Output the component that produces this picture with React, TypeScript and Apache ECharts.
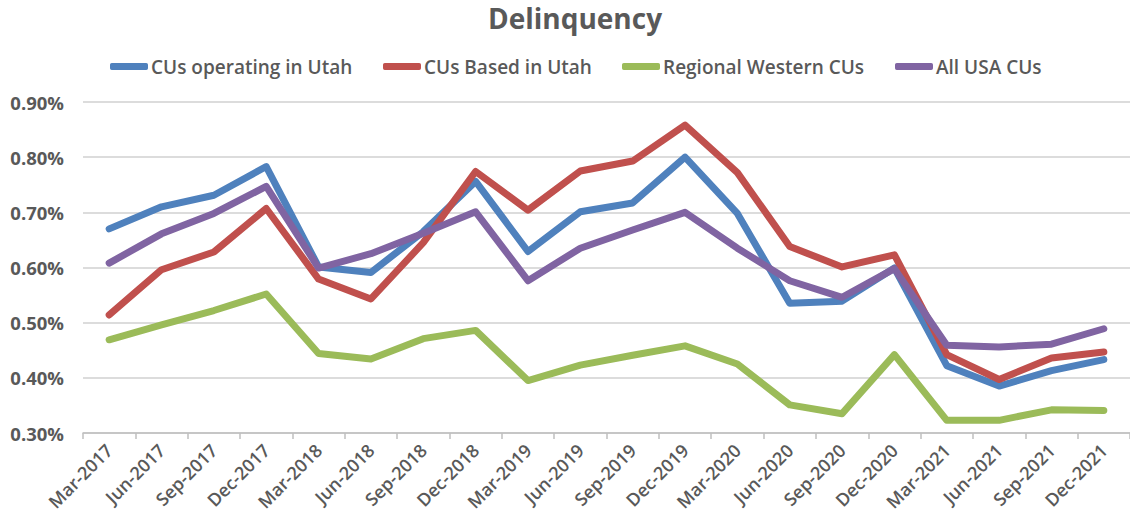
import React, { useEffect, useRef } from "react";
import * as echarts from "echarts";

const categories = [
  "Mar-2017", "Jun-2017", "Sep-2017", "Dec-2017",
  "Mar-2018", "Jun-2018", "Sep-2018", "Dec-2018",
  "Mar-2019", "Jun-2019", "Sep-2019", "Dec-2019",
  "Mar-2020", "Jun-2020", "Sep-2020", "Dec-2020",
  "Mar-2021", "Jun-2021", "Sep-2021", "Dec-2021",
];

const cusOperatingInUtah = [
  0.670, 0.710, 0.731, 0.783, 0.601, 0.591, 0.665, 0.756, 0.629, 0.701,
  0.717, 0.800, 0.698, 0.535, 0.539, 0.599, 0.422, 0.385, 0.413, 0.433,
];
const cusBasedInUtah = [
  0.514, 0.596, 0.628, 0.707, 0.579, 0.543, 0.645, 0.774, 0.704, 0.775,
  0.793, 0.858, 0.772, 0.638, 0.601, 0.623, 0.442, 0.397, 0.436, 0.447,
];
const regionalWesternCUs = [
  0.469, 0.496, 0.522, 0.552, 0.444, 0.434, 0.471, 0.486, 0.395, 0.423,
  0.441, 0.458, 0.425, 0.351, 0.335, 0.442, 0.323, 0.323, 0.342, 0.341,
];
const allUsaCUs = [
  0.608, 0.661, 0.698, 0.747, 0.599, 0.625, 0.662, 0.701, 0.576, 0.635,
  0.668, 0.700, 0.635, 0.576, 0.546, 0.598, 0.459, 0.456, 0.461, 0.489,
];

const seriesNames = [
  "CUs operating in Utah",
  "CUs Based in Utah",
  "Regional Western CUs",
  "All USA CUs",
];
const seriesData = [cusOperatingInUtah, cusBasedInUtah, regionalWesternCUs, allUsaCUs];
const seriesColors = ["#4F81BD", "#C0504D", "#9BBB59", "#8064A2"];
const legendLefts = [110, 383, 622, 895];

const FONT = "'Open Sans', 'Noto Sans', sans-serif";
const TEXT = "#595959";

export default function App() {
  const ref = useRef<HTMLDivElement>(null);

  useEffect(() => {
    if (!ref.current) return;
    const chart = echarts.init(ref.current, null, { renderer: "svg" });
    chart.setOption({
      animation: false,
      backgroundColor: "#ffffff",
      title: {
        text: "Delinquency",
        left: 575,
        top: 4,
        padding: 0,
        textAlign: "center",
        textStyle: { fontFamily: FONT, fontSize: 28, fontWeight: "bold", color: TEXT },
      },
      legend: seriesNames.map((name, i) => ({
        data: [name],
        left: legendLefts[i],
        top: 57,
        padding: 0,
        icon: "roundRect",
        itemWidth: 38,
        itemHeight: 7,
        itemGap: 4,
        textStyle: { fontFamily: FONT, fontSize: 19, fontWeight: 600, color: TEXT, padding: [0, 0, 0, -2] },
      })),
      grid: { left: 83, top: 102, width: 1050, height: 331, containLabel: false },
      xAxis: {
        type: "category",
        data: categories,
        boundaryGap: true,
        axisLine: { lineStyle: { color: "#BFBFBF", width: 1.5 } },
        axisTick: { show: true, length: 6, lineStyle: { color: "#BFBFBF", width: 1.5 } },
        axisLabel: {
          rotate: 45,
          interval: 0,
          margin: 14,
          fontFamily: FONT,
          fontSize: 18,
          fontWeight: 600,
          color: TEXT,
        },
      },
      yAxis: {
        type: "value",
        min: 0.3,
        max: 0.9,
        interval: 0.1,
        axisLine: { show: false },
        axisTick: { show: false },
        splitLine: { lineStyle: { color: "#D0D0D0", width: 1.5 } },
        axisLabel: {
          formatter: (v: number) => v.toFixed(2) + "%",
          margin: 19,
          fontFamily: FONT,
          fontSize: 18.5,
          fontWeight: "bold",
          color: TEXT,
        },
      },
      series: seriesNames.map((name, i) => ({
        name,
        type: "line",
        data: seriesData[i],
        showSymbol: false,
        symbol: "none",
        color: seriesColors[i],
        lineStyle: { width: 7, color: seriesColors[i], cap: "round", join: "round" },
      })),
    });
    return () => chart.dispose();
  }, []);

  return (
    <div
      ref={ref}
      style={{ position: "fixed", left: 0, top: 0, width: 1130, height: 527, overflow: "hidden" }}
    />
  );
}
